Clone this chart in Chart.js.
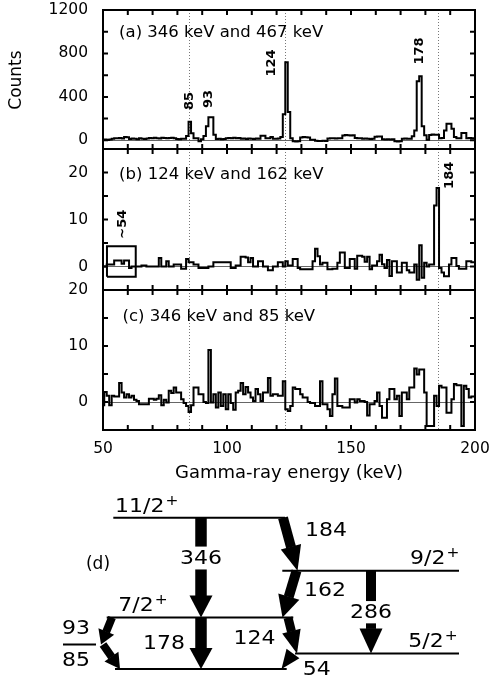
<!DOCTYPE html>
<html>
<head>
<meta charset="utf-8">
<title>Gamma-gamma coincidence spectra</title>
<script src="https://cdn.jsdelivr.net/npm/chart.js@4.4.1/dist/chart.umd.min.js"></script>
<style>
  html, body { margin: 0; padding: 0; background: #fff; }
  #page { position: relative; width: 490px; height: 681px; overflow: hidden; }
  #page canvas { position: absolute; left: 0; }
</style>
</head>
<body>
<div id="page">
  <canvas id="panelA" width="490" height="160" style="top:0"></canvas>
  <canvas id="panelB" width="490" height="160" style="top:140px"></canvas>
  <canvas id="panelC" width="490" height="210" style="top:280px"></canvas>
  <canvas id="scheme" width="490" height="201" style="top:480px"></canvas>
</div>
<script>
// Gamma-gamma coincidence spectra (a)-(c) and partial level scheme (d)

const FONT = '"DejaVu Sans", "Liberation Sans", sans-serif';
const TICK = 5;

// --- Spectra: counts per 1 keV bin, bins centred on 50, 51, ... 200 keV ---
const binStart = 49.5;
const binWidth = 1;

const countsA = [
  5, 8, 4, 7, 15, 20, 18, 22, 16, 30,          // 50-59
  28, 12, 16, 14, 10, 18, 15, 12, 17, 22,      // 60-69
  18, 24, 20, 17, 23, 21, 19, 22, 24, 20,      // 70-79
  12, 10, 14, 14, 40, 170, 65, 20, 18, -9,     // 80-89
  10, 40, 130, 212, 212, 52, 12, 14, 10, 13,   // 90-99
  18, 22, 20, 24, 19, 21, 14, 16, 12, 17,      // 100-109
  15, 13, 16, 14, 43, 43, 20, 18, 30, 15,      // 110-119
  14, 16, 30, 240, 720, 260, 20, -8, -10, -9,  // 120-129
  26, 30, 28, 27, 6, 5, -5, -7, -6, -4,        // 130-139
  -6, 16, 18, 20, 17, 19, 18, 45, 48, 46,      // 140-149
  44, 47, 21, 19, 20, 14, 16, 15, 13, 15,      // 150-159
  33, 35, 34, 10, 8, 9, 7, 10, -8, -10,        // 160-169
  -9, 14, 16, 15, 15, 37, 90, 543, 589, 130,   // 170-179
  46, 6, 50, 54, 52, 51, 20, 22, 90, 153,      // 180-189
  153, 107, 30, 20, 18, 67, 67, 20, 22, 20,    // 190-199
  20                                           // 200
];

const countsB = [
  0, 0, 0.4, 0.4, 0.4, 1.3, 1.3, 1.3, 0.6, 1.3,
  1.3, -0.3, 0, 0, 0, 0, 0.2, 0.2, 0, 0,
  0, 0, 0, 1.8, 0, 0, 1.1, 0, 0, 0.4,
  0.4, 0.4, -0.5, -0.5, 1.6, 0.9, 0.9, 0.4, 0.4, -0.3,
  -0.3, -0.3, -0.3, 0, 0, 0.9, 0.9, 0.9, 0.9, 0.9,
  0.9, 0.9, -0.3, -0.3, 0.2, 0.2, 2.1, 2.1, 1.9, 0.9,
  1.8, 0, 0, 1.1, 1.1, 0, 0, -0.8, -0.8, 0,
  0, 0.9, 0.9, 0, 1.1, 0.2, 0.2, 1.6, 1.6, -0.3,
  -0.6, -0.6, -0.6, -0.6, -0.6, 1.1, 3.8, 2.2, 0.4, 0.8,
  0.8, -0.6, -0.6, -0.5, -0.5, 0.8, 3.0, 3.0, -0.3, -0.3,
  1.6, 1.6, -0.5, 2.3, 2.3, 2.1, 1.0, 2.1, -0.6, 0.2,
  0.2, 1.1, 2.5, 0.5, -0.3, 1.4, -2.0, 1.1, 1.1, -1.3,
  -1.3, 0.8, 0.8, -0.8, -1.3, -1.3, 0.4, -2.8, 4.5, -2.4,
  0.8, 0, 0.4, 0.4, 13, 16.7, -0.3, -1.3, -2.1, -2.1,
  0.4, 1.8, 1.8, 0.1, -0.5, -0.5, -0.5, 1.1, 1.1, 0.9,
  0.9
];

const countsC = [
  -0.6, 1.8, 1.1, -0.6, 1.1, 1.0, 1.0, 3.4, 1.7, 0.8,
  1.4, 0.8, 1.1, 0.4, 0.2, -0.4, -0.4, -0.4, -0.4, 0.6,
  0.6, 0.4, 0.6, 1.2, -0.6, 0.4, -0.1, 2.0, 1.6, 2.6,
  1.7, 1.7, 0.5, -0.2, -0.7, -1.8, -0.6, 2.6, 2.6, 1.4,
  1.4, 0, -0.2, 9.3, -0.1, 1.4, -1.0, 1.7, -0.7, 1.4,
  -1.3, 1.4, -0.2, -1.4, 1.7, 2.0, 3.4, 1.4, 2.7, 1.7,
  0.8, 0.2, 2.3, 1.4, 0.2, 1.7, 1.7, 4.3, 1.1, 1.4,
  1.4, 1.1, 1.1, 3.7, -1.3, -1.6, -0.7, 2.6, 2.3, 2.3,
  1.4, 0.8, 0.8, 0, -0.2, -0.2, -0.7, -0.7, 3.7, -0.4,
  -0.4, -1.3, -2.5, 1.4, 4.2, -0.7, -0.7, -1.0, -1.0, -1.0,
  0.5, 0.5, -0.1, 0.5, 0.2, 0.2, 0, -2.4, -0.4, -0.4,
  0.2, 1.7, -0.7, -2.8, -2.8, 0.5, 2.3, 2.3, 0.5, 1.1,
  -2.5, 1.7, 1.7, 0.5, 2.6, 2.6, 6.0, 4.9, 5.8, 5.8,
  1.7, -4.3, -4.3, -4.3, 1.1, -0.7, 2.9, 2.6, 2.6, -1.9,
  -1.9, 0.5, 3.2, 3.0, 3.0, -4.3, 2.9, 2.3, 0.8, 1.0,
  1.0
];

// gate box drawn round the ~54 keV region in (b)
const boxX = [51.6, 63.2];
const boxY = [-2.2, 4.3];

// axis ticks
const xLabels = [50, 100, 150, 200];
const xTickMarks = [50, 60, 70, 80, 90, 100, 110, 120, 130, 140, 150, 160, 170, 180, 190, 200];
const markerEnergies = [84.6, 123.5, 184.9];
const yLabelsA = [0, 400, 800, 1200];
const yMarksA = [0, 200, 400, 600, 800, 1000, 1200];
const yLabelsB = [0, 10, 20];
const yMarksB = [0, 5, 10, 15, 20, 25];
const yLabelsC = [0, 10, 20];
const yMarksC = [0, 5, 10, 15, 20];

// --- Level scheme (d): level energies (keV) and gamma transitions ---
const levelEnergy = [0, 54, 85, 178, 340, 524];
const levelSpin = ['', '5/2', '', '7/2', '9/2', '11/2'];
const levelParity = ['', '+', '', '+', '+', '+'];
const gammaEnergy = [346, 184, 162, 286, 178, 124, 93, 85, 54];
const gammaFrom = [524, 524, 340, 340, 178, 178, 178, 85, 54];
const gammaTo = [178, 340, 178, 54, 0, 54, 85, 0, 0];

// drawing layout for the scheme (page pixels)
const SCHEME_TOP = 480;
const levelX0 = [115, 295, 63, 106.7, 282.3, 113.3];
const levelX1 = [286.7, 459, 96, 293.3, 459, 285];
const spinPos = [null, [408.3, 641.7], null, [118.3, 605.7], [410, 558.5], [115, 506.7]];
const gammaLayout = [
  { x1: 201, x2: 201, w: 11.5, hl: 22, hw: 23, gap: [0.284, 0.518], lx: 201, ly: 559 },
  { x1: 283, x2: 297.5, w: 10, hl: 25, hw: 21, lx: 326, ly: 530.5 },
  { x1: 296.5, x2: 282.5, w: 10, hl: 22, hw: 22, lx: 325, ly: 590.5 },
  { x1: 371, x2: 371, w: 10, hl: 25, hw: 23, gap: [0.36, 0.636], lx: 371, ly: 612.5 },
  { x1: 201, x2: 201, w: 11.5, hl: 21, hw: 23, lx: 164, ly: 644 },
  { x1: 288, x2: 297, w: 9, hl: 23, hw: 19, lx: 254.5, ly: 639 },
  { x1: 112, x2: 101, w: 8, hl: 14, hw: 17, lx: 76, ly: 628.5 },
  { x1: 103, x2: 120, w: 8, hl: 15, hw: 17, lx: 76, ly: 661 },
  { x1: 293, x2: 281.5, w: 0, hl: 99, hw: 16, lx: 316.7, ly: 670 },
];

// --- helpers ---
function histPoints(counts) {
  const pts = counts.map((c, i) => ({ x: binStart + i * binWidth, y: c }));
  pts.push({ x: binStart + counts.length * binWidth, y: counts[counts.length - 1] });
  return pts;
}

// keep the chart area exactly where the layout padding puts it
function noLabelPadding(ax) {
  ax.paddingTop = 0;
  ax.paddingBottom = 0;
  ax.paddingLeft = 0;
  ax.paddingRight = 0;
}

function panelDecor(yMarks, notes) {
  return {
    id: 'panelDecor',
    beforeDatasetsDraw(chart) {
      const { ctx, chartArea: a, scales: { x } } = chart;
      ctx.save();
      ctx.strokeStyle = '#777';
      ctx.lineWidth = 1;
      ctx.setLineDash([1, 2]);
      markerEnergies.forEach(e => {
        const px = Math.round(x.getPixelForValue(e)) + 0.5;
        ctx.beginPath();
        ctx.moveTo(px, a.top);
        ctx.lineTo(px, a.bottom);
        ctx.stroke();
      });
      ctx.restore();
    },
    afterDatasetsDraw(chart) {
      const { ctx, chartArea: a, scales: { x, y } } = chart;
      ctx.save();
      ctx.strokeStyle = '#000';
      ctx.lineWidth = 2;
      ctx.strokeRect(a.left, a.top, a.right - a.left, a.bottom - a.top);
      ctx.beginPath();
      xTickMarks.forEach(v => {
        const px = x.getPixelForValue(v);
        ctx.moveTo(px, a.top); ctx.lineTo(px, a.top + TICK);
        ctx.moveTo(px, a.bottom); ctx.lineTo(px, a.bottom - TICK);
      });
      yMarks.forEach(v => {
        const py = y.getPixelForValue(v);
        ctx.moveTo(a.left, py); ctx.lineTo(a.left + TICK, py);
        ctx.moveTo(a.right, py); ctx.lineTo(a.right - TICK, py);
      });
      ctx.stroke();
      ctx.fillStyle = '#000';
      notes.forEach(n => {
        ctx.save();
        ctx.translate(x.getPixelForValue(n.x), y.getPixelForValue(n.y));
        if (n.rotate) ctx.rotate(-Math.PI / 2);
        ctx.font = `${n.bold ? 'bold ' : ''}${n.size}px ${FONT}`;
        ctx.textAlign = n.align || 'center';
        ctx.textBaseline = 'middle';
        ctx.fillText(n.text, 0, 0);
        ctx.restore();
      });
      ctx.restore();
    }
  };
}

function makePanel(id, counts, yMin, yMax, yLabels, yMarks, notes, pad, showX, extra) {
  const datasets = [{
    data: histPoints(counts),
    stepped: 'before',
    borderColor: '#000',
    borderWidth: 2,
    pointRadius: 0,
    fill: false,
  }].concat(extra || []);

  return new Chart(document.getElementById(id), {
    type: 'line',
    data: { datasets },
    options: {
      responsive: false,
      animation: false,
      devicePixelRatio: 1,
      layout: { padding: { top: pad.top, bottom: pad.bottom, left: 0, right: 15 } },
      plugins: { legend: { display: false }, tooltip: { enabled: false } },
      scales: {
        x: {
          type: 'linear', min: 50, max: 200, display: showX,
          afterBuildTicks: ax => { ax.ticks = xLabels.map(v => ({ value: v })); },
          afterFit: ax => { noLabelPadding(ax); if (showX) ax.height = 60; },
          grid: { display: false, drawTicks: false },
          border: { display: false },
          ticks: { color: '#000', font: { family: FONT, size: 15.5 }, padding: 10, maxRotation: 0, autoSkip: false, callback: v => String(v) },
          title: { display: true, text: 'Gamma-ray energy (keV)', color: '#000', font: { family: FONT, size: 18 }, padding: { top: 0, bottom: 6 } },
        },
        y: {
          type: 'linear', min: yMin, max: yMax,
          afterBuildTicks: ax => { ax.ticks = yLabels.map(v => ({ value: v })); },
          afterFit: ax => { noLabelPadding(ax); ax.width = 103; },
          grid: { drawTicks: false, lineWidth: 1, color: c => (c.tick && c.tick.value === 0 ? '#666' : 'rgba(0,0,0,0)') },
          border: { display: false },
          ticks: { color: '#000', font: { family: FONT, size: 15.5 }, padding: 15, callback: v => String(v) },
        },
      },
    },
    plugins: [panelDecor(yMarks, notes)],
  });
}

// --- panels ---
makePanel('panelA', countsA, -80, 1200, yLabelsA, yMarksA, [
  { text: '(a) 346 keV and 467 keV', x: 56.5, y: 990, size: 16.5, align: 'left' },
  { text: '85', x: 85.1, y: 362, size: 13, bold: true, rotate: true },
  { text: '93', x: 92.5, y: 380, size: 13, bold: true, rotate: true },
  { text: '124', x: 117.9, y: 712, size: 13, bold: true, rotate: true },
  { text: '178', x: 177.8, y: 822, size: 13, bold: true, rotate: true },
  { text: 'Counts', x: 15.2, y: 555, size: 17, rotate: true },
], { top: 10, bottom: 11 }, false);

makePanel('panelB', countsB, -5, 25, yLabelsB, yMarksB, [
  { text: '(b) 124 keV and 162 keV', x: 56.5, y: 19.5, size: 16.5, align: 'left' },
  { text: '184', x: 189.9, y: 19.4, size: 13, bold: true, rotate: true },
  { text: '~54', x: 58.1, y: 9.0, size: 13, bold: true, rotate: true },
], { top: 9, bottom: 10 }, false, [{
  data: [
    { x: boxX[0], y: boxY[0] }, { x: boxX[1], y: boxY[0] }, { x: boxX[1], y: boxY[1] },
    { x: boxX[0], y: boxY[1] }, { x: boxX[0], y: boxY[0] },
  ],
  stepped: 'before',
  borderColor: '#000',
  borderWidth: 2,
  pointRadius: 0,
  fill: false,
}]);

makePanel('panelC', countsC, -5, 20, yLabelsC, yMarksC, [
  { text: '(c) 346 keV and 85 keV', x: 57.9, y: 15.3, size: 16.5, align: 'left' },
], { top: 10, bottom: 0 }, true);

// --- level scheme ---
function drawArrow(ctx, x1, y1, x2, y2, g) {
  const len = Math.hypot(x2 - x1, y2 - y1);
  const ux = (x2 - x1) / len, uy = (y2 - y1) / len;
  const nx = -uy, ny = ux;
  const hl = Math.min(g.hl, len);
  const shaftEnd = len - hl;
  const at = (t, off) => [x1 + ux * t + nx * off, y1 + uy * t + ny * off];
  const pieces = g.gap ? [[0, g.gap[0] * len], [g.gap[1] * len, shaftEnd]] : [[0, shaftEnd]];
  if (g.w > 0) {
    pieces.forEach(([s, e]) => {
      if (e <= s) return;
      const h = g.w / 2;
      const pts = [at(s, h), at(e + 0.5, h), at(e + 0.5, -h), at(s, -h)];
      ctx.beginPath();
      pts.forEach((p, k) => (k ? ctx.lineTo(p[0], p[1]) : ctx.moveTo(p[0], p[1])));
      ctx.closePath();
      ctx.fill();
    });
  }
  const b1 = at(shaftEnd, g.hw / 2), b2 = at(shaftEnd, -g.hw / 2);
  ctx.beginPath();
  ctx.moveTo(b1[0], b1[1]);
  ctx.lineTo(x2, y2);
  ctx.lineTo(b2[0], b2[1]);
  ctx.closePath();
  ctx.fill();
}

function schemeText(ctx, str, px, py, size, align, sx) {
  ctx.save();
  ctx.translate(px, py);
  ctx.scale(sx, 1);
  ctx.font = `${size}px ${FONT}`;
  ctx.textAlign = align;
  ctx.textBaseline = 'middle';
  ctx.fillText(str, 0, 0);
  const w = ctx.measureText(str).width * sx;
  ctx.restore();
  return w;
}

const schemeDecor = {
  id: 'schemeDecor',
  afterDatasetsDraw(chart) {
    const { ctx, scales: { x, y } } = chart;
    ctx.save();
    ctx.fillStyle = '#000';
    gammaEnergy.forEach((eg, i) => {
      const g = gammaLayout[i];
      drawArrow(ctx,
        x.getPixelForValue(g.x1), y.getPixelForValue(gammaFrom[i]),
        x.getPixelForValue(g.x2), y.getPixelForValue(gammaTo[i]), g);
      schemeText(ctx, String(eg), x.getPixelForValue(g.lx), g.ly - SCHEME_TOP, 20, 'center', 1.1);
    });
    levelSpin.forEach((s, i) => {
      if (!s) return;
      const [px, py] = spinPos[i];
      const w = schemeText(ctx, s, x.getPixelForValue(px), py - SCHEME_TOP, 20, 'left', 1.1);
      schemeText(ctx, levelParity[i], x.getPixelForValue(px) + w + 1, py - SCHEME_TOP - 5, 14, 'left', 1.1);
    });
    schemeText(ctx, '(d)', x.getPixelForValue(98), 565 - SCHEME_TOP, 17, 'center', 1);
    ctx.restore();
  }
};

new Chart(document.getElementById('scheme'), {
  type: 'line',
  data: {
    datasets: levelEnergy.map((e, i) => ({
      data: [{ x: levelX0[i], y: e }, { x: levelX1[i], y: e }],
      borderColor: '#000',
      borderWidth: 2,
      pointRadius: 0,
      fill: false,
    })),
  },
  options: {
    responsive: false,
    animation: false,
    devicePixelRatio: 1,
    layout: { padding: 0 },
    plugins: { legend: { display: false }, tooltip: { enabled: false } },
    scales: {
      x: { type: 'linear', display: false, min: 0, max: 490 },
      y: { type: 'linear', display: false, min: -41.56, max: 654.6 },
    },
  },
  plugins: [schemeDecor],
});
</script>
</body>
</html>
